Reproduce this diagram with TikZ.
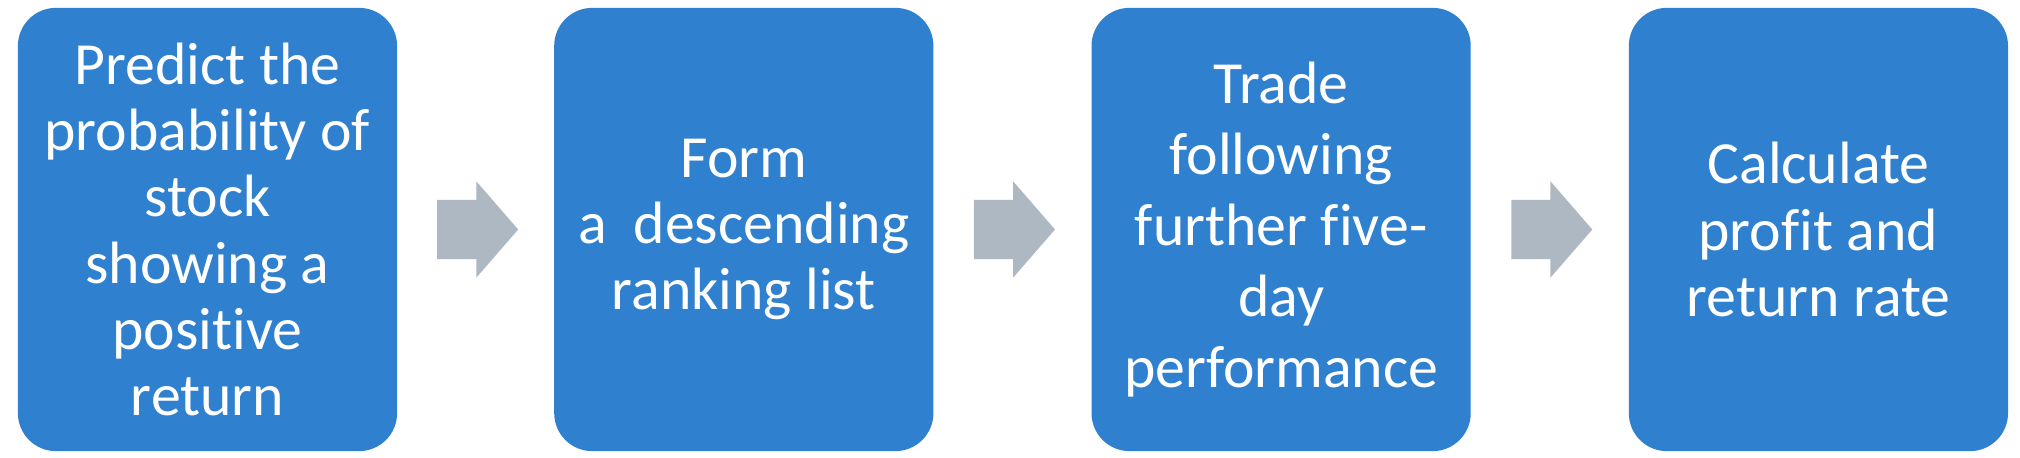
\documentclass[tikz,border=0pt]{standalone}
\usepackage{fontspec}
\setmainfont{Carlito}[Ligatures=NoCommon]
\usetikzlibrary{positioning, calc, shapes.arrows}

\definecolor{stepblue}{RGB}{47,128,207}
\definecolor{arrowgray}{RGB}{173,184,194}

\begin{document}
\begin{tikzpicture}[x=0.01cm, y=0.01cm, font=\fontsize{17pt}{18.8pt}\selectfont,
  stepbox/.style={fill=stepblue, draw=none, rounded corners=0.38cm,
    minimum width=3.79cm, minimum height=4.43cm, inner sep=0pt, outer sep=0pt,
    text=white, align=center},
  flowarrow/.style={single arrow, fill=arrowgray, draw=none, outer sep=0pt,
    inner xsep=0pt, inner ysep=0.29cm, minimum height=0.81cm,
    single arrow head extend=0.185cm, single arrow tip angle=98,
    anchor=tail, xshift=-0.385cm}]
  \useasboundingbox (0,0) rectangle (2020,458);
  % the four steps
  \node[stepbox] (predict) at (207.5,228.5) {Predict the\\probability of\\stock\\showing a\\positive\\return};
  \node[stepbox, right=1.57cm of predict] (rank) {Form\\a\ \ descending\\ranking list};
  \node[stepbox, right=1.58cm of rank, font=\fontsize{17pt}{20.2pt}\selectfont] (trade) {Trade\\following\\further five-\\day\\performance};
  \node[stepbox, right=1.58cm of trade] (profit) {Calculate\\profit and\\return rate};
  % arrows between them
  \node[flowarrow] (a1) at ($(predict.east)!0.5!(rank.west)$) {};
  \node[flowarrow] (a2) at ($(rank.east)!0.5!(trade.west)$) {};
  \node[flowarrow] (a3) at ($(trade.east)!0.5!(profit.west)$) {};
\end{tikzpicture}
\end{document}
